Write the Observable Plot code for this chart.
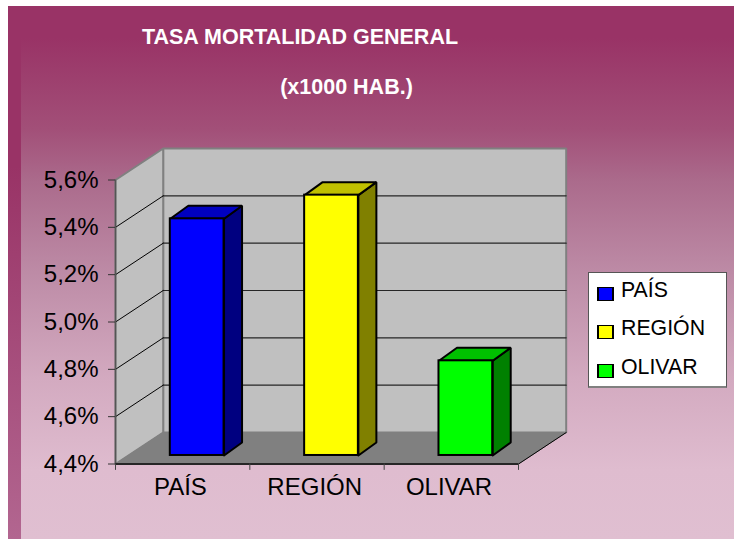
<!DOCTYPE html>
<html lang="es">
<head>
<meta charset="utf-8">
<script src="https://cdn.jsdelivr.net/npm/d3@7"></script>
<script src="https://cdn.jsdelivr.net/npm/@observablehq/plot@0.6"></script>
<style>
html,body{margin:0;padding:0;background:#fff;overflow:hidden}
#page{position:relative;width:734px;height:539px;overflow:hidden;font-family:"Liberation Sans",Arial,sans-serif}
#bg{position:absolute;left:8px;top:6px;right:0;bottom:0;background:linear-gradient(180deg,#993366 0%,#993366 6%,#a24f78 23%,#ab6b8c 33%,#bd8ba6 50%,#d3aac0 70%,#dfbccf 87%,#e0bfd1 100%)}
#stripe{position:absolute;left:8px;top:6px;width:13px;bottom:0;background:linear-gradient(180deg,#993366 0%,#993366 30%,#b26690 100%)}
#page svg{position:absolute;left:0;top:0;background:transparent}
.title{position:absolute;width:400px;text-align:center;color:#fff;font-weight:bold;font-size:21.5px;line-height:24px;white-space:nowrap}
#legend{position:absolute;left:588px;top:272px;width:137px;height:113px;background:#fff;border:1px solid #555;border-bottom:2px solid #808080;box-sizing:content-box}
.key{position:absolute;left:8px;width:13px;height:12px;border:2px solid #000;border-width:1.5px 2px}
.lab{position:absolute;left:32px;font-size:21.3px;line-height:24px;color:#000;white-space:nowrap}
</style>
</head>
<body>
<div id="page">
  <div id="bg"></div><div id="stripe"></div>
  <div class="title" id="t1" style="left:100px;top:25px"></div>
  <div class="title" id="t2" style="left:146.5px;top:75px"></div>
  <div id="legend"></div>
</div>
<script>
const titleLines = ["TASA MORTALIDAD GENERAL", "(x1000 HAB.)"];
const categories = ["PAÍS", "REGIÓN", "OLIVAR"];
const values = [5.4, 5.5, 4.8];
const frontColors = ["#0000ff", "#ffff00", "#00ff00"];
const topColors = ["#0000c0", "#c0c000", "#00c000"];
const sideColors = ["#000080", "#808000", "#008000"];
const yTicks = [4.4, 4.6, 4.8, 5.0, 5.2, 5.4, 5.6];
const xEdges = [0, 1, 2, 3];

// Oblique projection, in data units
const wallDX = 0.355, wallDY = 0.133;
const barStart = 0.408, barWidth = 0.4;
const barDX = 0.134, barDY = 0.055, baseDY = 0.036;
const yMin = 4.4, yMax = 5.6, xMax = 3;

const poly = (pts, fill, stroke, strokeWidth) =>
  Plot.line([...pts, pts[0]].map(([x, y]) => ({x, y})), {x: "x", y: "y", fill, stroke, strokeWidth, strokeLinejoin: "miter", curve: "linear"});

const marks = [
  // back wall, side wall, floor
  poly([[wallDX, yMin + wallDY], [xMax + wallDX, yMin + wallDY], [xMax + wallDX, yMax + wallDY], [wallDX, yMax + wallDY]], "#c0c0c0", "#808080", 2),
  poly([[0, yMin], [wallDX, yMin + wallDY], [wallDX, yMax + wallDY], [0, yMax]], "#c0c0c0", "#808080", 2),
  poly([[0, yMin], [xMax, yMin], [xMax + wallDX, yMin + wallDY], [wallDX, yMin + wallDY]], "#808080", "#808080", 1),
  // gridlines on the back and side walls
  ...yTicks.slice(1, -1).flatMap(t => [
    Plot.line([{x: wallDX, y: t + wallDY}, {x: xMax + wallDX, y: t + wallDY}], {x: "x", y: "y", stroke: "#262626", strokeWidth: 1.2}),
    Plot.line([{x: 0, y: t}, {x: wallDX, y: t + wallDY}], {x: "x", y: "y", stroke: "#000", strokeWidth: 1})
  ]),
  Plot.line([{x: xMax, y: yMin}, {x: xMax + wallDX, y: yMin + wallDY}], {x: "x", y: "y", stroke: "#000", strokeWidth: 1}),
  // axis lines
  Plot.ruleX([0], {y1: yMin, y2: yMax, stroke: "#555", strokeWidth: 1.5}),
  Plot.ruleY([yMin], {x1: 0, x2: xMax, stroke: "#262626", strokeWidth: 2}),
  // bars
  ...categories.flatMap((c, i) => {
    const x0 = i + barStart, x1 = x0 + barWidth, y0 = yMin + baseDY, v = values[i] + baseDY;
    return [
      poly([[x1, y0], [x1 + barDX, y0 + barDY], [x1 + barDX, v + barDY], [x1, v]], sideColors[i], "#000", 2),
      poly([[x0, v], [x1, v], [x1 + barDX, v + barDY], [x0 + barDX, v + barDY]], topColors[i], "#000", 2),
      Plot.rect([{c}], {x1: x0, x2: x1, y1: y0, y2: v, fill: frontColors[i], stroke: "#000", strokeWidth: 2})
    ];
  }),
  // axes
  Plot.axisY(yTicks, {anchor: "left", label: null, tickSize: 7, tickPadding: 10, stroke: "#333", fontSize: 24,
    fontFamily: "Liberation Sans", fill: "#000", tickFormat: d => d.toFixed(1).replace(".", ",") + "%"}),
  Plot.ruleX(xEdges, {y1: yMin, y2: yMin - 0.027, stroke: "#444", strokeWidth: 1}),
  Plot.text(categories, {x: (d, i) => i + 0.483, y: yMin, text: d => d, dy: 23, fontSize: 24, fontFamily: "Liberation Sans", fill: "#000"})
];

const chart = Plot.plot({
  width: 734, height: 539,
  marginLeft: 115, marginRight: 216, marginTop: 179.5, marginBottom: 75.5,
  x: {type: "linear", domain: [0, xMax], axis: null},
  y: {type: "linear", domain: [yMin, yMax], axis: null},
  style: {background: "transparent", overflow: "visible"},
  marks
});
const page = document.getElementById("page");
page.insertBefore(chart, document.getElementById("t1"));

document.getElementById("t1").textContent = titleLines[0];
document.getElementById("t2").textContent = titleLines[1];

const legend = document.getElementById("legend");
const keyTops = [14, 52, 91], labTops = [5, 43, 82];
categories.forEach((c, i) => {
  const k = document.createElement("div");
  k.className = "key"; k.style.top = keyTops[i] + "px"; k.style.background = frontColors[i];
  const l = document.createElement("div");
  l.className = "lab"; l.style.top = labTops[i] + "px"; l.textContent = c;
  legend.append(k, l);
});
</script>
</body>
</html>
